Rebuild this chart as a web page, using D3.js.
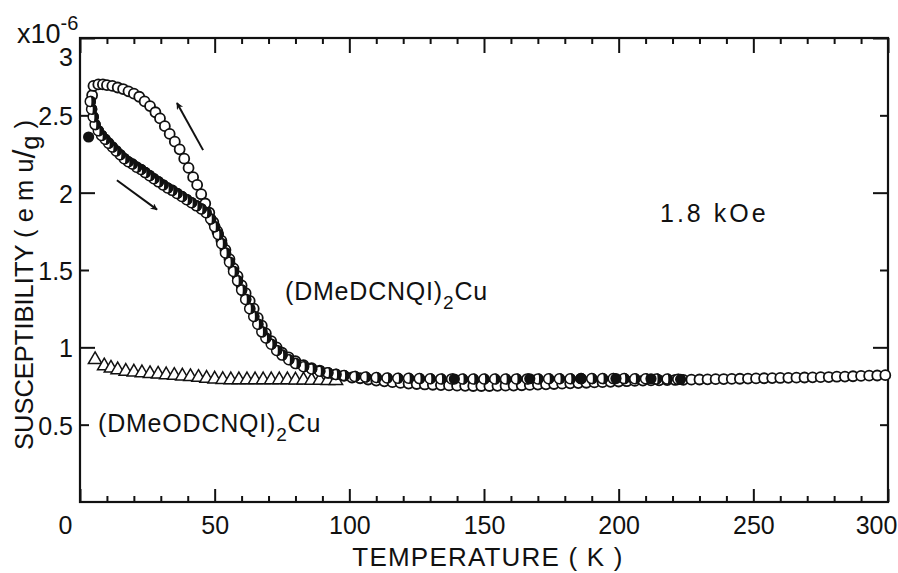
<!DOCTYPE html>
<html>
<head>
<meta charset="utf-8">
<script src="https://cdn.jsdelivr.net/npm/d3@7"></script>
<style>
  body { margin: 0; background: #fff; }
  svg { display: block; font-family: "Liberation Sans", Arial, sans-serif; }
  text { fill: #111; }
</style>
</head>
<body>
<script>
// heating branch, open circles
const warmT = [4.5, 5.0, 6.8, 8.5, 10, 12, 14, 16, 18, 20, 22, 24, 26, 28, 29.7, 31.5, 33.3, 35.2, 37, 38.7,
    40.3, 42, 43.5, 45, 46.5, 48, 49.5, 51, 52.5, 54, 55.5, 57, 58.5, 60, 61.5, 63, 64.5, 66, 67.5, 69,
    71, 73, 75, 77.5, 80, 83, 86, 89, 92, 95, 98, 101, 104, 107, 110, 113, 116, 119, 122, 125,
    128, 131, 134, 137, 140, 143, 146, 149, 152, 155, 158, 161, 164, 167, 170, 173, 176, 179, 182, 185,
    188, 191, 194, 197, 200, 203, 206, 209, 212, 215, 218, 221, 224, 227, 230, 233, 236, 239, 242, 245,
    248, 251, 254, 257, 260, 263, 266, 269, 272, 275, 278, 281, 284, 287, 290, 293, 296, 299];
const warmChi = [2.63, 2.69, 2.70, 2.70, 2.695, 2.69, 2.68, 2.67, 2.655, 2.64, 2.62, 2.59, 2.56, 2.52, 2.48, 2.43, 2.38, 2.33, 2.28, 2.22,
    2.16, 2.10, 2.05, 1.99, 1.93, 1.87, 1.81, 1.75, 1.69, 1.63, 1.57, 1.51, 1.46, 1.40, 1.35, 1.30, 1.25, 1.19, 1.14, 1.09,
    1.04, 1.00, 0.965, 0.935, 0.91, 0.885, 0.865, 0.85, 0.835, 0.825, 0.815, 0.805, 0.80, 0.792, 0.785, 0.78, 0.775, 0.77, 0.766, 0.763,
    0.76, 0.758, 0.756, 0.754, 0.752, 0.751, 0.75, 0.75, 0.75, 0.751, 0.752, 0.753, 0.755, 0.757, 0.759, 0.761, 0.763, 0.765, 0.767, 0.769,
    0.771, 0.773, 0.775, 0.777, 0.779, 0.781, 0.783, 0.785, 0.786, 0.787, 0.788, 0.789, 0.79, 0.791, 0.792, 0.793, 0.794, 0.795, 0.796, 0.797,
    0.798, 0.799, 0.80, 0.801, 0.802, 0.803, 0.804, 0.805, 0.806, 0.807, 0.808, 0.81, 0.811, 0.813, 0.815, 0.817, 0.818, 0.82];

// cooling branch, shaded circles
const coolT = [222, 218, 214, 210, 206, 202, 198, 194, 190, 186, 182, 178, 174, 170, 166, 162, 158, 154, 150, 146,
    142, 138, 134, 130, 126, 122, 118, 114, 110, 106, 102, 98, 95, 92, 89, 86, 83, 80, 77.5, 75,
    73, 71, 69, 67.5, 66, 64.5, 63, 61.5, 60, 58.5, 57, 55.5, 54, 52.6, 51.3, 50, 48.5, 46.8, 45, 43.2,
    41.4, 39.6, 37.8, 36, 34.2, 32.5, 30.8, 29.1, 27.4, 25.8, 24.2, 22.6, 21, 19.4, 17.9, 16.4, 14.9, 13.4, 12, 10.6,
    9.3, 8, 6.8, 5.6, 4.9, 4.3, 3.8];
const coolChi = [0.793, 0.795, 0.796, 0.797, 0.797, 0.798, 0.798, 0.798, 0.798, 0.798, 0.797, 0.797, 0.797, 0.796, 0.796, 0.796, 0.795, 0.795, 0.795, 0.795,
    0.795, 0.796, 0.796, 0.797, 0.798, 0.80, 0.80, 0.802, 0.805, 0.808, 0.812, 0.818, 0.825, 0.835, 0.845, 0.86, 0.875, 0.895, 0.92, 0.95,
    0.98, 1.02, 1.06, 1.10, 1.15, 1.20, 1.25, 1.31, 1.37, 1.43, 1.49, 1.55, 1.61, 1.67, 1.73, 1.78, 1.83, 1.87, 1.895, 1.915,
    1.935, 1.955, 1.975, 1.995, 2.015, 2.03, 2.05, 2.07, 2.09, 2.11, 2.13, 2.15, 2.165, 2.185, 2.20, 2.22, 2.245, 2.27, 2.295, 2.32,
    2.345, 2.37, 2.40, 2.44, 2.49, 2.54, 2.59];

// solid points
const filledT = [3.2, 139, 167, 186, 199, 212, 223];
const filledChi = [2.36, 0.795, 0.797, 0.798, 0.798, 0.797, 0.793];

// (DMeODCNQI)2Cu, open triangles
const triT = [5.6, 9, 11.5, 14, 17, 20, 23, 26, 29, 32, 35, 38, 41, 44, 47, 50, 53, 56, 59, 62,
    65, 68, 71, 74, 77, 80, 83, 86, 89, 92, 95];
const triChi = [0.92, 0.88, 0.865, 0.855, 0.845, 0.84, 0.835, 0.83, 0.826, 0.822, 0.818, 0.814, 0.81, 0.805, 0.80, 0.795, 0.792, 0.79, 0.79, 0.79,
    0.79, 0.79, 0.79, 0.79, 0.79, 0.788, 0.788, 0.787, 0.786, 0.785, 0.785];

const xTicks = [0, 50, 100, 150, 200, 250, 300];
const yTicks = [0.5, 1, 1.5, 2, 2.5, 3];

const W = 898, H = 573;
const x = d3.scaleLinear().domain([0, 300]).range([80, 888]);
const y = d3.scaleLinear().domain([0, 3]).range([502, 38]);

const svg = d3.select('body').append('svg')
    .attr('width', W)
    .attr('height', H);

svg.append('rect').attr('width', W).attr('height', H).attr('fill', '#fff');

const minorX = d3.range(10, 300, 10).filter(v => v % 50);

// bottom axis, major + minor ticks pointing inward
const xAxisBottom = svg.append('g')
    .attr('transform', `translate(0,${y(0)})`)
    .call(d3.axisBottom(x).tickValues(xTicks).tickSizeInner(-13).tickSizeOuter(0).tickPadding(14).tickFormat(d3.format('d')));
xAxisBottom.select('.domain').remove();
xAxisBottom.selectAll('text')
    .attr('font-size', 25)
    .attr('font-family', 'Liberation Sans, Arial, sans-serif')
    .attr('dx', d => (d === 0 ? -15 : d === 300 ? -12 : 0));

svg.append('g')
    .attr('transform', `translate(0,${y(0)})`)
    .call(d3.axisBottom(x).tickValues(minorX).tickSizeInner(-6).tickSizeOuter(0).tickFormat(''))
    .select('.domain').remove();

// top axis mirror
svg.append('g')
    .attr('transform', `translate(0,${y(3)})`)
    .call(d3.axisTop(x).tickValues(xTicks).tickSizeInner(-15).tickSizeOuter(0).tickFormat(''))
    .select('.domain').remove();
svg.append('g')
    .attr('transform', `translate(0,${y(3)})`)
    .call(d3.axisTop(x).tickValues(minorX).tickSizeInner(-6).tickSizeOuter(0).tickFormat(''))
    .select('.domain').remove();

// left axis
const yAxisLeft = svg.append('g')
    .attr('transform', `translate(${x(0)},0)`)
    .call(d3.axisLeft(y).tickValues(yTicks).tickSizeInner(-15).tickSizeOuter(0).tickPadding(7).tickFormat(d => d));
yAxisLeft.select('.domain').remove();
yAxisLeft.selectAll('.tick line').attr('x2', d => (Number.isInteger(d) ? 15 : 9));
yAxisLeft.selectAll('text')
    .attr('font-size', 25)
    .attr('font-family', 'Liberation Sans, Arial, sans-serif')
    .attr('dy', d => (d === 3 ? '1.1em' : '0.38em'));

// right axis
const yAxisRight = svg.append('g')
    .attr('transform', `translate(${x(300)},0)`)
    .call(d3.axisRight(y).tickValues(yTicks).tickSizeInner(-15).tickSizeOuter(0).tickFormat(''));
yAxisRight.select('.domain').remove();
yAxisRight.selectAll('.tick line').attr('x2', d => (Number.isInteger(d) ? -15 : -8));

svg.selectAll('.tick line').attr('stroke', '#111').attr('stroke-width', 2);

// frame
svg.append('rect')
    .attr('x', x(0)).attr('y', y(3))
    .attr('width', x(300) - x(0)).attr('height', y(0) - y(3))
    .attr('fill', 'none').attr('stroke', '#111').attr('stroke-width', 2.2);

// data
const tri = d3.symbol().type(d3.symbolTriangle).size(78);
svg.append('g').selectAll('path')
    .data(d3.zip(triT, triChi))
    .join('path')
    .attr('d', tri)
    .attr('transform', d => `translate(${x(d[0])},${y(d[1])})`)
    .attr('fill', '#fff').attr('stroke', '#111').attr('stroke-width', 1.5);

const r = 5;

svg.append('g').selectAll('circle')
    .data(d3.zip(warmT, warmChi))
    .join('circle')
    .attr('cx', d => x(d[0])).attr('cy', d => y(d[1]))
    .attr('r', r)
    .attr('fill', '#fff').attr('stroke', '#111').attr('stroke-width', 1.8);

const crescent = `M0,${-r - 0.8}A${r + 0.8},${r + 0.8} 0 0 1 0,${r + 0.8}A${r * 0.2},${r} 0 0 0 0,${-r - 0.8}Z`;
const cool = svg.append('g').selectAll('g')
    .data(d3.zip(coolT, coolChi))
    .join('g')
    .attr('transform', d => `translate(${x(d[0])},${y(d[1])})`);
cool.append('circle').attr('r', r).attr('fill', '#fff').attr('stroke', '#111').attr('stroke-width', 1.5);
cool.append('path').attr('d', crescent).attr('fill', '#111');

svg.append('g').selectAll('circle')
    .data(d3.zip(filledT, filledChi))
    .join('circle')
    .attr('cx', d => x(d[0])).attr('cy', d => y(d[1]))
    .attr('r', r + 0.6)
    .attr('fill', '#111');

// arrows (data units)
const arrows = [[45.7, 2.275, 36.0, 2.58], [13.7, 2.08, 28.6, 1.89]];
svg.append('defs').append('marker')
    .attr('id', 'head').attr('viewBox', '0 0 10 10').attr('refX', 9).attr('refY', 5)
    .attr('markerWidth', 12).attr('markerHeight', 7).attr('markerUnits', 'userSpaceOnUse')
    .attr('orient', 'auto')
    .append('path').attr('d', 'M0,0L10,5L0,10L3,5Z').attr('fill', '#111');
svg.append('g').selectAll('line')
    .data(arrows)
    .join('line')
    .attr('x1', d => x(d[0])).attr('y1', d => y(d[1]))
    .attr('x2', d => x(d[2])).attr('y2', d => y(d[3]))
    .attr('stroke', '#111').attr('stroke-width', 2)
    .attr('marker-end', 'url(#head)');

// labels
svg.append('text')
    .attr('x', 488).attr('y', 566)
    .attr('text-anchor', 'middle')
    .attr('font-size', 26)
    .attr('letter-spacing', 1.2)
    .text('TEMPERATURE ( K )');

const yt = svg.append('text')
    .attr('transform', 'translate(33,450) rotate(-90)')
    .attr('font-size', 25.5);
yt.append('tspan').text('SUSCEPTIBILITY ( e m u');
yt.append('tspan').attr('font-size', 32).attr('dy', 2).text('/');
yt.append('tspan').attr('dy', 4).text('g');
yt.append('tspan').attr('dy', -6).text(' )');

const ex = svg.append('text').attr('x', 17).attr('y', 43).attr('font-size', 27);
ex.append('tspan').text('x10');
ex.append('tspan').attr('font-size', 20).attr('dy', -13).text('-6');

svg.append('text')
    .attr('x', 660).attr('y', 222)
    .attr('font-size', 25)
    .attr('letter-spacing', 3)
    .text('1.8 kOe');

const l1 = svg.append('text').attr('x', 285).attr('y', 300).attr('font-size', 25).attr('letter-spacing', 0.8);
l1.append('tspan').text('(DMeDCNQI)');
l1.append('tspan').attr('font-size', 19).attr('dy', 9).text('2');
l1.append('tspan').attr('dy', -9).text('Cu');

const l2 = svg.append('text').attr('x', 98).attr('y', 432).attr('font-size', 25).attr('letter-spacing', 0.8);
l2.append('tspan').text('(DMeODCNQI)');
l2.append('tspan').attr('font-size', 19).attr('dy', 9).text('2');
l2.append('tspan').attr('dy', -9).text('Cu');
</script>
</body>
</html>
